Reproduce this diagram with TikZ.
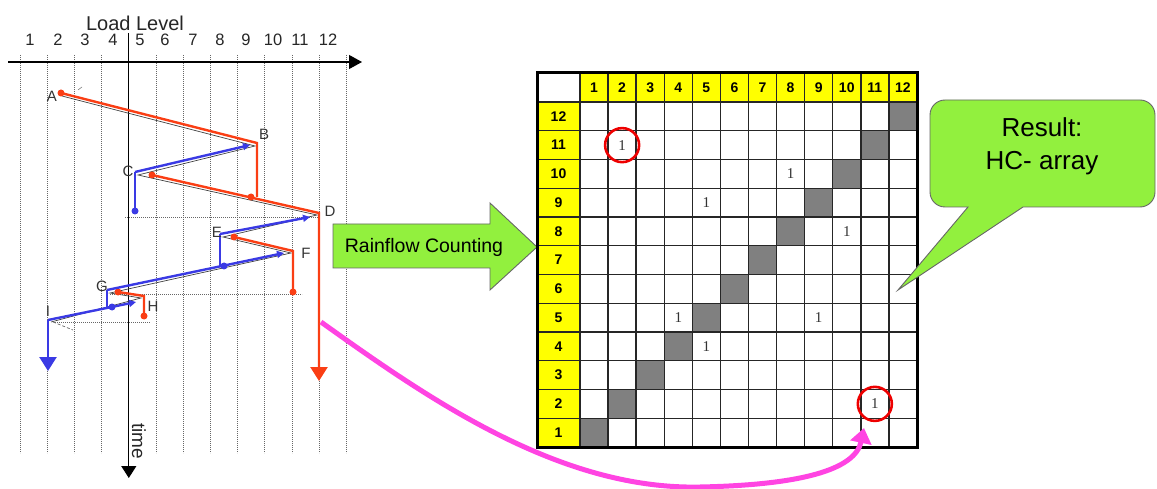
\documentclass[tikz,border=0pt]{standalone}
\usepackage{fontspec}
\setmainfont{Liberation Sans}
\newfontfamily\entryfont{Liberation Serif}
\usetikzlibrary{arrows.meta}
\definecolor{rfred}{RGB}{250,62,20}
\definecolor{rfblue}{RGB}{58,58,228}
\definecolor{limegreen}{RGB}{146,240,62}
\definecolor{magentaarrow}{RGB}{255,68,226}
\definecolor{hdryellow}{RGB}{255,255,0}
\definecolor{diaggray}{RGB}{128,128,128}
\definecolor{circred}{RGB}{238,0,0}
\begin{document}
\begin{tikzpicture}[x=1pt,y=-1pt,
  gridline/.style={black!60, line width=0.8pt, dash pattern=on 0.8pt off 1.2pt},
  axisline/.style={black, line width=1.2pt},
  redpath/.style={rfred, line width=2.4pt},
  bluepath/.style={rfblue, line width=2.4pt},
  loadpath/.style={black!75, line width=0.7pt},
  rdot/.style={circle, fill=rfred, inner sep=0pt, minimum size=7pt},
  bdot/.style={circle, fill=rfblue, inner sep=0pt, minimum size=7pt},
  pointlabel/.style={font=\fontsize{15}{15}\selectfont, text=black!80, inner sep=0pt},
  levelnum/.style={font=\fontsize{16.5}{16.5}\selectfont, text=black!85, inner sep=0pt},
  smalltip/.style={-{Triangle[length=7pt,width=7pt]}},
  bigtip/.style={-{Triangle[length=14pt,width=17pt]}},
  cellline/.style={black!85, line width=1.4pt},
  hdrnum/.style={font=\bfseries\fontsize{14}{14}\selectfont, inner sep=0pt},
  entry/.style={font=\entryfont\fontsize{15}{15}\selectfont, text=black!80, inner sep=0pt},
  greenshape/.style={fill=limegreen, draw=black!60, line width=0.9pt},
]
\useasboundingbox (0,0) rectangle (1157,489);

% ---------------- left chart ----------------
\foreach \i in {0,1,2,3,5,6,7,8,9,10,11,12}
  \draw[gridline] ({20+27.2*\i},55) -- ({20+27.2*\i},453);
\node[font=\fontsize{20}{20}\selectfont, text=black!85] (loadlevel) at (135,23) {Load Level};
\foreach \x [count=\k] in {30,58,85,113,140,165,193,220,246,273,300,328}
  \node[levelnum] (lev\k) at (\x,40) {\k};
\coordinate (hx0) at (8,62);
\coordinate (hx1) at (362,62);
\draw[axisline, -{Triangle[length=13pt,width=14pt]}] (hx0) -- (hx1);
\coordinate (tx0) at (128.8,33);
\coordinate (tx1) at (128.8,478);
\draw[axisline, -{Triangle[length=12pt,width=15pt]}] (tx0) -- (tx1);
\node[font=\fontsize{19}{19}\selectfont, text=black!85, rotate=-90] (timelbl) at (139,441) {time};

% guide lines
\coordinate (g1a) at (125,217); \coordinate (g1b) at (318,217);
\coordinate (g2a) at (110,294); \coordinate (g2b) at (302,294);
\coordinate (g3a) at (55,322);  \coordinate (g3b) at (150,322);
\draw[gridline] (g1a) -- (g1b);
\draw[gridline] (g2a) -- (g2b);
\draw[gridline] (g3a) -- (g3b);

% turning points
\coordinate (A) at (61,93);
\coordinate (B) at (257,143);
\coordinate (Bd) at (257,197);
\coordinate (Bb) at (250,145);
\coordinate (C) at (135,172);
\coordinate (Cd) at (135,211);
\coordinate (Cr) at (152,175);
\coordinate (D) at (319,213);
\coordinate (Dd) at (319,381);
\coordinate (Db) at (310,217);
\coordinate (E) at (220,234);
\coordinate (Ed) at (220,266);
\coordinate (Er) at (234,237);
\coordinate (F) at (293,251);
\coordinate (Fd) at (293,292);
\coordinate (Fb) at (284,253);
\coordinate (G) at (107,290);
\coordinate (Gd) at (107,307);
\coordinate (Gr) at (118,292);
\coordinate (H) at (144,296);
\coordinate (Hd) at (144,316);
\coordinate (Hb) at (136,302);
\coordinate (I) at (48,320);
\coordinate (Id) at (48,371);
\coordinate (Ie) at (73,330);

% original load path (thin dark line)
\draw[loadpath] ([shift={(1,3)}]A) -- ([shift={(-2,3)}]B) -- ([shift={(3,3)}]C) -- ([shift={(-2,2)}]D)
  -- ([shift={(3,3)}]E) -- ([shift={(-2,2)}]F) -- ([shift={(3,3)}]G) -- ([shift={(-3,2)}]H) -- ([shift={(3,2)}]I);
\draw[black!60, line width=0.7pt, dash pattern=on 3pt off 2pt] ([shift={(5,2)}]I) -- (Ie);
\draw[black!50, line width=0.6pt] (78,90) -- (82,87);

% red paths
\draw[redpath] (A) -- (B) -- (Bd);
\draw[redpath, bigtip] (Cr) -- (D) -- (Dd);
\draw[redpath] (Er) -- (F) -- (Fd);
\draw[redpath] (Gr) -- (H) -- (Hd);
\node[rdot] (rA) at (A) {};
\node[rdot] (rB) at (251,197) {};
\node[rdot] (rC) at (Cr) {};
\node[rdot] (rE) at (Er) {};
\node[rdot] (rF) at (Fd) {};
\node[rdot] (rG) at (Gr) {};
\node[rdot] (rH) at (Hd) {};

% blue paths
\draw[bluepath, smalltip] (C) -- (Bb);
\draw[bluepath] (C) -- (Cd);
\draw[bluepath, smalltip] (E) -- (Db);
\draw[bluepath] (E) -- (Ed);
\draw[bluepath, smalltip] (G) -- (Fb);
\draw[bluepath] (G) -- (Gd);
\draw[bluepath, smalltip] (I) -- (Hb);
\draw[bluepath, bigtip] (I) -- (Id);
\node[bdot] (bC) at (Cd) {};
\node[bdot] (bE) at (224,266) {};
\node[bdot] (bG) at (112,307) {};

% point labels
\node[pointlabel] (lA) at (52,96) {A};
\node[pointlabel] (lB) at (264,134) {B};
\node[pointlabel] (lC) at (128,171) {C};
\node[pointlabel] (lD) at (330,211) {D};
\node[pointlabel] (lE) at (217,232) {E};
\node[pointlabel] (lF) at (306,253) {F};
\node[pointlabel] (lG) at (102,286) {G};
\node[pointlabel] (lH) at (153,306) {H};
\node[pointlabel] (lI) at (48,311) {I};

% ---------------- Rainflow counting arrow ----------------
\draw[greenshape] (333,224) -- (490,224) -- (490,203) -- (537,247) -- (490,290) -- (490,268) -- (333,268) -- cycle;
\node[font=\fontsize{19.5}{19.5}\selectfont] (rfc) at (424,247) {Rainflow Counting};

% ---------------- matrix ----------------
\fill[white] (537,73) rectangle (917,447);
\fill[hdryellow] (580,73) rectangle (917,102);
\fill[hdryellow] (537,102) rectangle (580,447);
\foreach \r in {1,...,12}
  \fill[diaggray] ({580+28.08*(\r-1)},{102+28.75*(12-\r)}) rectangle ++(28.08,28.75);
\foreach \k in {0,...,12}
  \draw[cellline] ({580+28.08*\k},73) -- ({580+28.08*\k},447);
\foreach \j in {0,...,12}
  \draw[cellline] (537,{102+28.75*\j}) -- (917,{102+28.75*\j});
\draw[black, line width=3pt] (537,73) rectangle (917,447);
\foreach \k in {1,...,12}
  \node[hdrnum] (col\k) at ({580+28.08*(\k-0.5)},87.5) {\k};
\foreach \r in {1,...,12}
  \node[hdrnum] (row\r) at (558.5,{102+28.75*(12.5-\r)}) {\r};
\foreach \r/\c in {11/2,10/8,9/5,8/10,5/4,5/9,4/5,2/11}
  \node[entry] (e\r-\c) at ({580+28.08*(\c-0.5)},{102+28.75*(12.5-\r)}) {1};
\draw[circred, line width=2.6pt] (e11-2.center) circle (17pt);
\draw[circred, line width=2.6pt] (e2-11.center) circle (17pt);

% ---------------- magenta arrow ----------------
\coordinate (magstart) at (321,322);
\coordinate (magmid) at (700,487);
\coordinate (magend) at (864,428);
\draw[magentaarrow, line width=5pt, -{Triangle[length=15pt,width=21pt]}]
  (magstart) .. controls (430,400) and (560,490) .. (magmid)
  .. controls (800,485) and (855,470) .. (magend);

% ---------------- callout ----------------
\draw[greenshape] (968,207) [rounded corners=15pt] -- (930,207) -- (930,100) -- (1155,100) -- (1155,207) [sharp corners] -- (1023,207) -- (898,290) -- cycle;
\node[font=\fontsize{26}{33}\selectfont, align=center] (result) at (1042,146) {Result:\\HC- array};
\end{tikzpicture}
\end{document}
